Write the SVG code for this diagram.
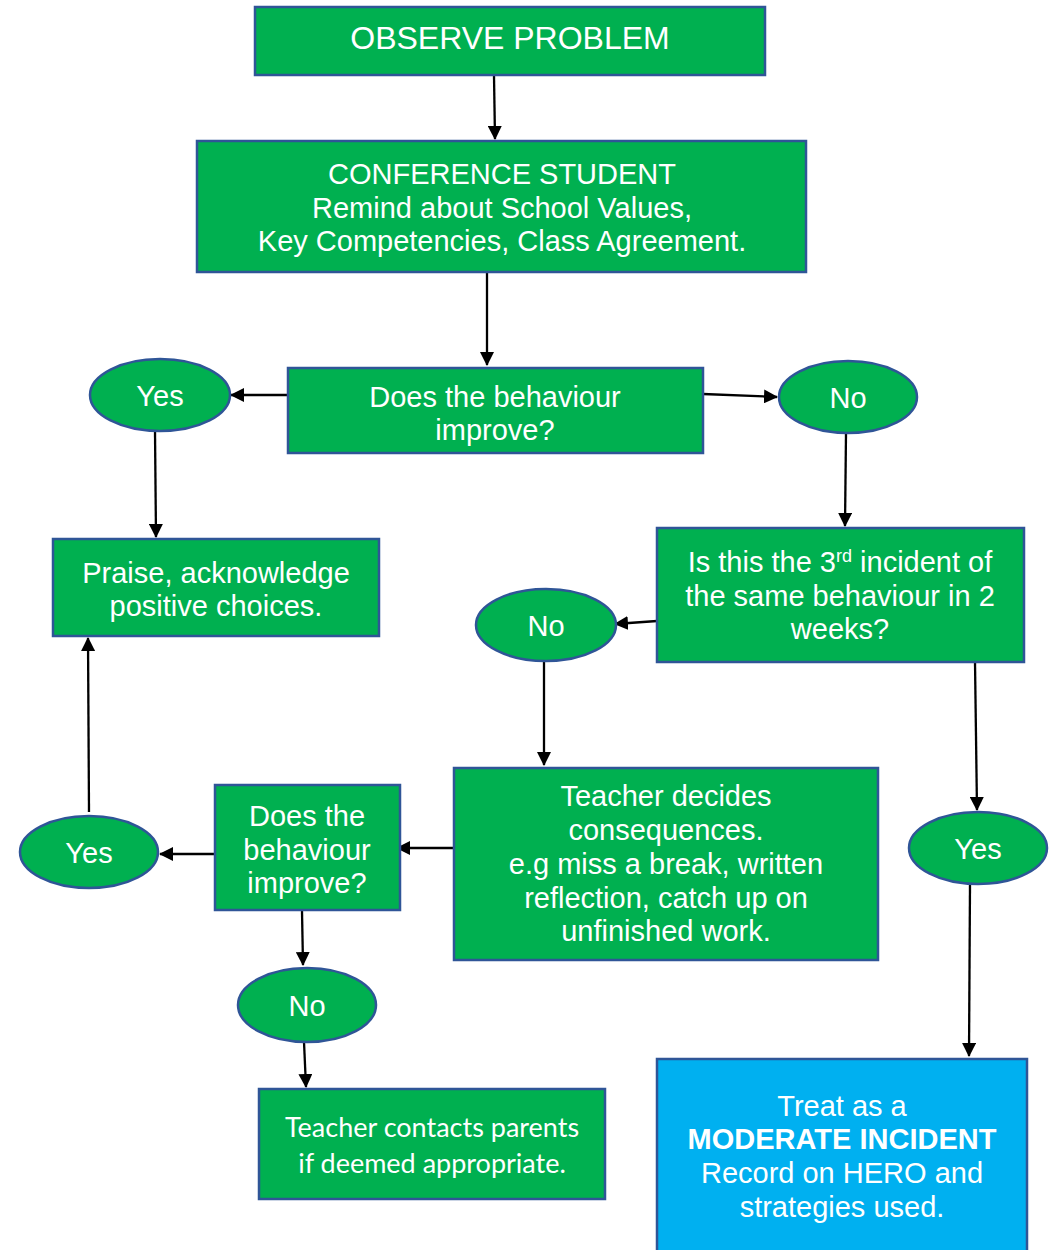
<svg xmlns="http://www.w3.org/2000/svg" width="1053" height="1250" viewBox="0 0 1053 1250">
<defs>
<marker id="ah" viewBox="0 0 14 14" refX="13" refY="7" markerWidth="14" markerHeight="14" markerUnits="userSpaceOnUse" orient="auto">
<path d="M0,0 L14,7 L0,14 Z" fill="#000"/>
</marker>
<style>
.box{fill:#00B050;stroke:#2F5597;stroke-width:2.5}
.blue{fill:#00B0F0;stroke:#2F5597;stroke-width:2.5}
.t{font-family:"Liberation Sans",Arial,sans-serif;font-size:29px;fill:#fff;text-anchor:middle}
.c{font-family:Lato,"Open Sans",sans-serif;font-size:27px;fill:#fff;text-anchor:middle}
.b{font-weight:bold}
.ln{stroke:#000;stroke-width:2.3;fill:none;marker-end:url(#ah)}
</style>
</defs>
<rect width="1053" height="1250" fill="#fff"/>
<g id="connectors">
<line class="ln" x1="494" y1="76" x2="495" y2="139"/>
<line class="ln" x1="487" y1="273" x2="487" y2="365"/>
<line class="ln" x1="287" y1="395" x2="231" y2="395"/>
<line class="ln" x1="703" y1="394" x2="777" y2="397"/>
<line class="ln" x1="155" y1="431" x2="156" y2="537"/>
<line class="ln" x1="846" y1="433" x2="845" y2="526"/>
<line class="ln" x1="657" y1="621" x2="615" y2="624"/>
<line class="ln" x1="544" y1="661" x2="544" y2="765"/>
<line class="ln" x1="454" y1="848" x2="397" y2="848"/>
<line class="ln" x1="215" y1="854" x2="160" y2="854"/>
<line class="ln" x1="89" y1="812" x2="88" y2="638"/>
<line class="ln" x1="302" y1="911" x2="303" y2="965"/>
<line class="ln" x1="304" y1="1042" x2="306" y2="1087"/>
<line class="ln" x1="975" y1="662" x2="977" y2="810"/>
<line class="ln" x1="970" y1="884" x2="969" y2="1056"/>
</g>
<g id="observe">
<rect class="box" x="255" y="7" width="510" height="68"/>
<text class="t" x="510" y="49" style="font-size:32px">OBSERVE PROBLEM</text>
</g>
<g id="conference">
<rect class="box" x="197" y="141" width="609" height="131"/>
<text class="t" x="502" y="184">CONFERENCE STUDENT</text>
<text class="t" x="502" y="218">Remind about School Values,</text>
<text class="t" x="502" y="251">Key Competencies, Class Agreement.</text>
</g>
<g id="decision1">
<rect class="box" x="288" y="368" width="415" height="85"/>
<text class="t" x="495" y="407">Does the behaviour</text>
<text class="t" x="495" y="440">improve?</text>
</g>
<g id="yes1">
<ellipse class="box" cx="160" cy="395" rx="70" ry="36"/>
<text class="t" x="160" y="406">Yes</text>
</g>
<g id="no1">
<ellipse class="box" cx="848" cy="397" rx="69" ry="36"/>
<text class="t" x="848" y="408">No</text>
</g>
<g id="praise">
<rect class="box" x="53" y="539" width="326" height="97"/>
<text class="t" x="216" y="583">Praise, acknowledge</text>
<text class="t" x="216" y="616">positive choices.</text>
</g>
<g id="third">
<rect class="box" x="657" y="528" width="367" height="134"/>
<text class="t" x="840" y="572">Is this the 3<tspan style="font-size:18px" dy="-10">rd</tspan><tspan dy="10"> incident of</tspan></text>
<text class="t" x="840" y="606">the same behaviour in 2</text>
<text class="t" x="840" y="639">weeks?</text>
</g>
<g id="no2">
<ellipse class="box" cx="546" cy="625" rx="70" ry="36"/>
<text class="t" x="546" y="636">No</text>
</g>
<g id="consequences">
<rect class="box" x="454" y="768" width="424" height="192"/>
<text class="t" x="666" y="806">Teacher decides</text>
<text class="t" x="666" y="840">consequences.</text>
<text class="t" x="666" y="874">e.g miss a break, written</text>
<text class="t" x="666" y="908">reflection, catch up on</text>
<text class="t" x="666" y="941">unfinished work.</text>
</g>
<g id="decision2">
<rect class="box" x="215" y="785" width="185" height="125"/>
<text class="t" x="307" y="826">Does the</text>
<text class="t" x="307" y="860">behaviour</text>
<text class="t" x="307" y="893">improve?</text>
</g>
<g id="yes2">
<ellipse class="box" cx="89" cy="852" rx="69" ry="36"/>
<text class="t" x="89" y="863">Yes</text>
</g>
<g id="no3">
<ellipse class="box" cx="307" cy="1005" rx="69" ry="37"/>
<text class="t" x="307" y="1016">No</text>
</g>
<g id="yes3">
<ellipse class="box" cx="978" cy="848" rx="69" ry="36"/>
<text class="t" x="978" y="859">Yes</text>
</g>
<g id="parents">
<rect class="box" x="259" y="1089" width="346" height="110"/>
<text class="c" x="432" y="1137">Teacher contacts parents</text>
<text class="c" x="432" y="1173">if deemed appropriate.</text>
</g>
<g id="moderate">
<rect class="blue" x="657" y="1059" width="370" height="200"/>
<text class="t" x="842" y="1116">Treat as a</text>
<text class="t b" x="842" y="1149">MODERATE INCIDENT</text>
<text class="t" x="842" y="1183">Record on HERO and</text>
<text class="t" x="842" y="1217">strategies used.</text>
</g>
</svg>
